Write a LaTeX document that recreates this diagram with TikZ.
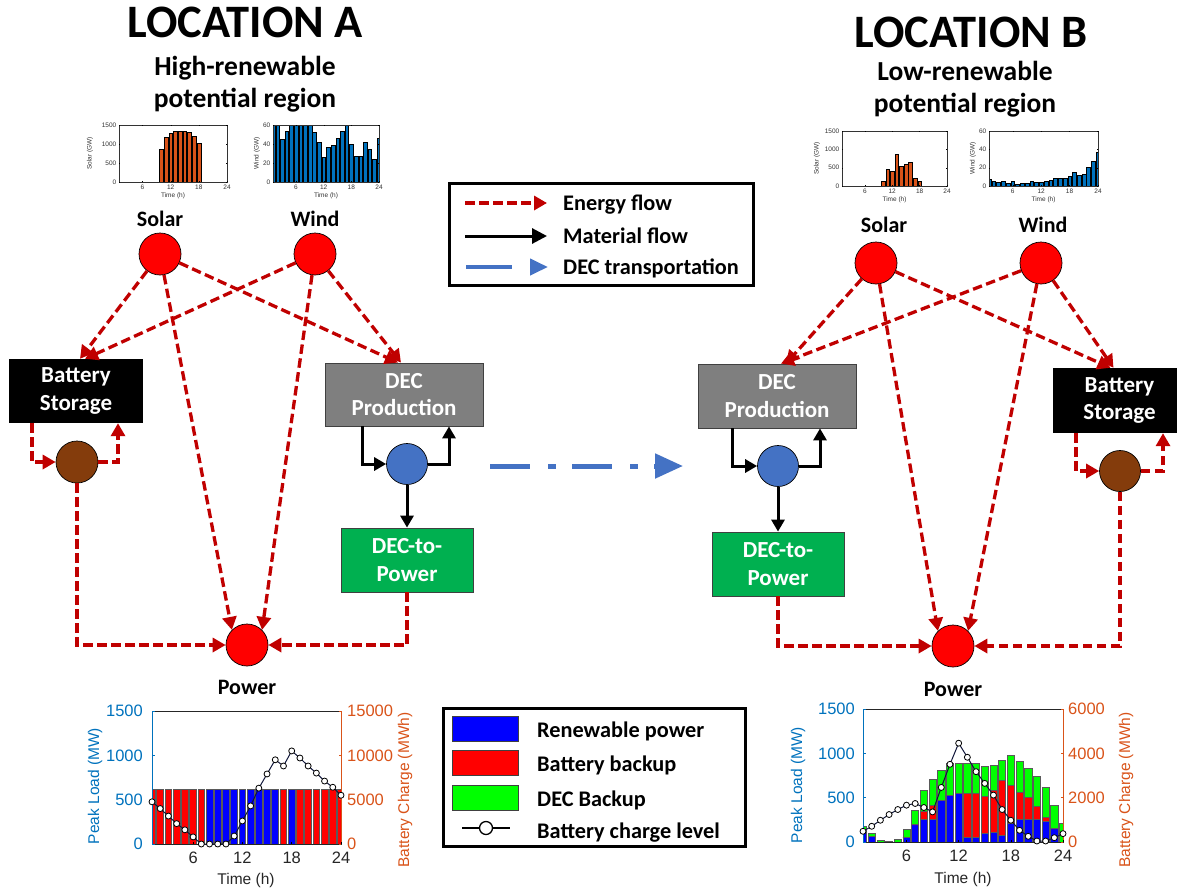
\documentclass[tikz,border=0pt]{standalone}
\usepackage{fontspec}
\setmainfont{Carlito}
\newfontfamily\chartfont{Liberation Sans}
\usetikzlibrary{arrows.meta,calc}

\definecolor{eRed}{HTML}{C00000}
\definecolor{decBlue}{HTML}{4472C4}
\definecolor{brownC}{HTML}{843C0C}
\definecolor{boxGray}{HTML}{7F7F7F}
\definecolor{boxGreen}{HTML}{00B050}
\definecolor{mlBlue}{HTML}{0072BD}
\definecolor{mlOrange}{HTML}{D95319}
\definecolor{barEdge}{HTML}{5A5A5A}
\definecolor{chgLine}{HTML}{10163A}

% small hourly bar chart: x0, x1, ybottom, ytop, ymax, colour, data, ylabel, ylabel x
\newcommand\minichart[9]{%
  \foreach \v [count=\h] in {#7} {%
    \pgfmathsetmacro\xc{#1+(\h-1)*(#2-#1)/23}%
    \pgfmathsetmacro\hw{0.4*(#2-#1)/23}%
    \pgfmathsetmacro\xl{max(\xc-\hw,#1)}%
    \pgfmathsetmacro\xr{min(\xc+\hw,#2)}%
    \pgfmathsetmacro\yv{#3-min(\v,#5)/#5*(#3-#4)}%
    \filldraw[fill=#6, draw=black, line width=0.35pt] (\xl,#3) rectangle (\xr,\yv);
  }%
  \draw[line width=0.45pt, black!80] (#1,#4) rectangle (#2,#3);
  \foreach \t in {6,12,18,24} {%
    \pgfmathsetmacro\xt{#1+(\t-1)*(#2-#1)/23}%
    \draw[line width=0.3pt] (\xt,#3) -- ++(0,-1.3) (\xt,#4) -- ++(0,1.3);
    \node[mini, anchor=north] at (\xt,{#3+2}) {\t};
  }%
  \foreach \k in {0,1,2,3} {%
    \pgfmathsetmacro\yk{#3-\k*(#3-#4)/3}%
    \pgfmathtruncatemacro\lab{\k*(#5/3)}%
    \draw[line width=0.3pt] (#1,\yk) -- ++(1.3,0) (#2,\yk) -- ++(-1.3,0);
    \node[mini, anchor=east] at ({#1-2},\yk) {\lab};
  }%
  \node[mini, rotate=90] at (#9,{(#3+#4)/2}) {#8};
  \node[mini] at ({(#1+#2)/2},{#3+14}) {Time (h)};
}

\begin{document}
\begin{tikzpicture}[x=1pt,y=-1pt,
  eflow/.style={draw=eRed, line width=3.3pt, dash pattern=on 9.5pt off 4.5pt,
    -{Triangle[length=13pt,width=14pt]}},
  mflow/.style={draw=black, line width=3pt, -{Triangle[length=12pt,width=13pt]}},
  tflow/.style={draw=decBlue, line width=5pt, -{Triangle[length=28pt,width=24pt]}},
  nodec/.style={circle, draw=black, line width=0.7pt, inner sep=0pt},
  src/.style={nodec, fill=red, minimum size=42pt},
  box/.style={rectangle, inner sep=0pt, align=center, text=white,
    font=\bfseries\fontsize{23}{27.5}\selectfont},
  lbl/.style={font=\bfseries\fontsize{22}{26}\selectfont, inner sep=0pt},
  ttl/.style={font=\bfseries\fontsize{46.5}{52}\selectfont, inner sep=0pt},
  sub/.style={font=\bfseries\fontsize{27.5}{31}\selectfont, inner sep=0pt},
  lgt/.style={font=\bfseries\fontsize{22.3}{26}\selectfont, inner sep=0pt},
  mini/.style={font=\chartfont\fontsize{6.5}{7}\selectfont, text=black!80, inner sep=0.5pt},
  ax/.style={font=\chartfont\fontsize{16.5}{18}\selectfont, inner sep=0pt},
  axl/.style={font=\chartfont\fontsize{15.5}{17}\selectfont, inner sep=0pt},
  mk/.style={circle, draw=black, fill=white, line width=0.8pt, minimum size=6pt, inner sep=0pt},
  swatch/.style={rectangle, draw=black!75, line width=0.8pt, minimum width=66pt, minimum height=25pt, inner sep=0pt}
]
\useasboundingbox (0,0) rectangle (1177,892);

% ---------------- headings ----------------
\node[ttl, anchor=base] (tA) at (245,37) {LOCATION A};
\node[sub, anchor=base] (sA1) at (245,75) {High-renewable};
\node[sub, anchor=base] (sA2) at (245,107) {potential region};
\node[ttl, anchor=base] (tB) at (971,47) {LOCATION B};
\node[sub, anchor=base] (sB1) at (965,80) {Low-renewable};
\node[sub, anchor=base] (sB2) at (965,112) {potential region};

% ---------------- resource profiles ----------------
\minichart{119}{227}{182}{125}{1500}{mlOrange}
  {0,0,0,0,0,0,0,0,0,870,1170,1280,1340,1350,1350,1300,1200,1010,0,0,0,0,0,0}{Solar (GW)}{90}
\minichart{273}{379}{182}{125}{60}{mlBlue}
  {60,60,45,53,60,60,60,60,60,52,42,26,37,39,46,54,60,40,27,27,42,35,24,46}{Wind (GW)}{257}
\minichart{842}{947}{186}{131}{1500}{mlOrange}
  {0,0,0,0,0,0,0,0,0,136,452,407,867,542,587,641,208,136,0,0,0,0,0,0}{Solar (GW)}{817}
\minichart{989}{1098}{186}{131}{60}{mlBlue}
  {7,5.7,4.6,5.4,3.6,5.7,2.5,3.6,3.2,5.7,3.9,3.9,5.4,6.4,8.9,8.6,8.9,10.4,15.4,12.1,12.9,20.7,27.5,36.8}{Wind (GW)}{973}

% ---------------- location A network ----------------
\node[src] (solA) at (160,254) {};
\node[src] (winA) at (315,254) {};
\node[lbl, anchor=base] (solAl) at (160,226) {Solar};
\node[lbl, anchor=base] (winAl) at (315,226) {Wind};
\node[box, fill=black, minimum width=134pt, minimum height=64pt] (batA) at (76,391) {Battery\\Storage};
\node[nodec, fill=brownC, minimum size=42pt] (brnA) at (77,462) {};
\node[box, fill=boxGray, draw=black!75, line width=0.8pt, minimum width=158pt, minimum height=63pt] (decA) at (404,394.5) {DEC\\Production};
\node[nodec, fill=decBlue, minimum size=41pt] (bluA) at (407,464) {};
\node[box, fill=boxGreen, draw=black!75, line width=0.8pt, minimum width=132pt, minimum height=64pt] (d2pA) at (407,560) {DEC-to-\\Power};
\node[src] (powA) at (247,645) {};
\node[lbl, anchor=base] (powAl) at (247,694) {Power};

\draw[eflow] (solA) -- ([xshift=4pt]batA.north);
\draw[eflow] (winA) -- ([xshift=9pt]batA.north);
\draw[eflow] (solA) -- ([xshift=-6pt]decA.north);
\draw[eflow] (winA) -- ([xshift=-3pt]decA.north);
\draw[eflow] (solA) -- (powA.north west);
\draw[eflow] (winA) -- (powA.north east);
\draw[eflow] ([xshift=-44pt]batA.south) |- (brnA);
\draw[eflow] (brnA) -| ([xshift=42pt]batA.south);
\draw[eflow] (brnA) |- (powA);
\draw[eflow] (d2pA) |- (powA);
\draw[mflow] ([xshift=-42pt]decA.south) |- (bluA);
\draw[mflow] (bluA) -| ([xshift=45pt]decA.south);
\draw[mflow] (bluA) -- (d2pA);

% ---------------- location B network ----------------
\node[src] (solB) at (876,263) {};
\node[src] (winB) at (1041,263) {};
\node[lbl, anchor=base] (solBl) at (884,232) {Solar};
\node[lbl, anchor=base] (winBl) at (1043,232) {Wind};
\node[box, fill=boxGray, draw=black!75, line width=0.8pt, minimum width=158pt, minimum height=64pt] (decB) at (777,396) {DEC\\Production};
\node[nodec, fill=decBlue, minimum size=41pt] (bluB) at (778,466) {};
\node[box, fill=boxGreen, draw=black!75, line width=0.8pt, minimum width=132pt, minimum height=64pt] (d2pB) at (778,564) {DEC-to-\\Power};
\node[box, fill=black, minimum width=133pt, minimum height=65pt] (batB) at (1119.5,400.5) {Battery\\Storage};
\node[nodec, fill=brownC, minimum size=41pt] (brnB) at (1120,471) {};
\node[src] (powB) at (953,646) {};
\node[lbl, anchor=base] (powBl) at (953,696) {Power};

\draw[eflow] (solB) -- ([xshift=9pt]decB.north);
\draw[eflow] (winB) -- ([xshift=4pt]decB.north);
\draw[eflow] (solB) -- ([xshift=-9pt]batB.north);
\draw[eflow] (winB) -- ([xshift=-6pt]batB.north);
\draw[eflow] (solB) -- (powB.north west);
\draw[eflow] (winB) -- (powB.north east);
\draw[eflow] ([xshift=-43.5pt]batB.south) |- (brnB);
\draw[eflow] (brnB) -| ([xshift=43.5pt]batB.south);
\draw[eflow] (brnB) |- (powB);
\draw[eflow] (d2pB) |- (powB);
\draw[mflow] ([xshift=-45pt]decB.south) |- (bluB);
\draw[mflow] (bluB) -| ([xshift=43pt]decB.south);
\draw[mflow] (bluB) -- (d2pB);

% DEC shipment between the two locations
\coordinate (shipS) at (490,466);
\coordinate (shipE) at (683,466);
\draw[tflow, dash pattern=on 40pt off 18pt on 8pt off 16pt] (shipS) -- (shipE);

% ---------------- flow legend ----------------
\node[draw=black, line width=3pt, minimum width=304pt, minimum height=102pt, inner sep=0pt] (legF) at (601.5,234.5) {};
\coordinate (le1) at (465,203); \coordinate (le2) at (547,203);
\coordinate (lm1) at (465,236); \coordinate (lm2) at (547,236);
\coordinate (lt1) at (466,267); \coordinate (lt2) at (548,267);
\draw[eflow] (le1) -- (le2);
\draw[mflow, -{Triangle[length=15pt,width=15pt]}] (lm1) -- (lm2);
\draw[draw=decBlue, line width=4pt, dash pattern=on 46pt off 40pt, -{Triangle[length=18pt,width=16pt]}] (lt1) -- (lt2);
\node[lgt, anchor=base west] (lgE) at (563,210) {Energy flow};
\node[lgt, anchor=base west] (lgM) at (563,243) {Material flow};
\node[lgt, anchor=base west] (lgT) at (563,274) {DEC transportation};

% ---------------- dispatch legend ----------------
\node[draw=black, line width=3pt, minimum width=302pt, minimum height=138pt, inner sep=0pt] (legD) at (594.5,777.5) {};
\node[swatch, fill=blue] (swR) at (485,728.5) {};
\node[swatch, fill=red] (swB) at (485,763) {};
\node[swatch, fill=green] (swD) at (485,797.5) {};
\coordinate (lc1) at (462,828); \coordinate (lc2) at (510,828);
\draw[line width=2.5pt] (lc1) -- (lc2);
\node[mk, minimum size=13pt, line width=1.3pt] (lcm) at (486,828) {};
\node[lgt, anchor=base west] at (537,737) {Renewable power};
\node[lgt, anchor=base west] at (537,771) {Battery backup};
\node[lgt, anchor=base west] at (537,806) {DEC Backup};
\node[lgt, anchor=base west] at (537,838) {Battery charge level};

% ---------------- dispatch chart, location A ----------------
\foreach \c [count=\h] in {red,red,red,red,red,red,red,blue,blue,blue,blue,blue,blue,blue,blue,blue,red,blue,red,red,red,red,red,red} {
  \pgfmathsetmacro\xc{152+(\h-1)*189/23}
  \pgfmathsetmacro\xl{max(\xc-3.4,152)}
  \pgfmathsetmacro\xr{min(\xc+3.4,341)}
  \filldraw[fill=\c, draw=barEdge, line width=0.8pt] (\xl,844) rectangle (\xr,{844-620/1500*133});
}
\draw[line width=0.5pt, black!85] (152,711) rectangle (341,844);
\draw[line width=0.6pt, mlBlue] (152,711) -- (152,844);
\draw[line width=0.6pt, mlOrange] (341,711) -- (341,844);
\foreach \k/\l/\r in {0/0/0,1/500/5000,2/1000/10000,3/1500/15000} {
  \pgfmathsetmacro\yk{844-\k*133/3}
  \draw[mlBlue, line width=0.5pt] (152,\yk) -- ++(2.5,0);
  \draw[mlOrange, line width=0.5pt] (341,\yk) -- ++(-2.5,0);
  \node[ax, text=mlBlue, anchor=east] at (143,\yk) {\l};
  \node[ax, text=mlOrange, anchor=west] at (347,\yk) {\r};
}
\foreach \t in {6,12,18,24} {
  \pgfmathsetmacro\xt{152+(\t-1)*189/23}
  \draw[line width=0.5pt] (\xt,844) -- ++(0,-2.5);
  \node[ax, text=black!85, anchor=north] at (\xt,852) {\t};
}
\node[axl, text=black!85] at (246,880) {Time (h)};
\node[axl, text=mlBlue, rotate=90] at (95,786) {Peak Load (MW)};
\node[axl, text=mlOrange, rotate=90] at (405,790) {Battery Charge (MWh)};
\foreach \v [count=\h] in {4760,4000,3150,2300,1600,800,0,0,0,0,900,2600,4300,6300,7900,9500,8800,10500,9700,8800,8000,7100,6400,5500} {
  \coordinate (cA\h) at ({152+(\h-1)*189/23},{844-\v/15000*133});
}
\draw[chgLine, line width=1pt] (cA1) \foreach \i in {2,...,24} { -- (cA\i) };
\foreach \i in {1,...,24} { \node[mk] at (cA\i) {}; }

% ---------------- dispatch chart, location B ----------------
\foreach \b/\r/\g [count=\h] in {113/0/65,64/0/36,0/0/19,0/0/11,0/0/26,57/0/86,196/0/159,253/95/237,253/159/294,472/0/340,529/0/359,548/0/340,57/491/340,57/491/340,102/416/340,110/470/289,76/615/235,208/434/340,253/310/344,253/246/332,253/151/340,238/38/340,151/0/264,0/0/208} {
  \pgfmathsetmacro\xc{863+(\h-1)*200/23}
  \pgfmathsetmacro\xl{max(\xc-3.6,863)}
  \pgfmathsetmacro\xr{min(\xc+3.6,1063)}
  \pgfmathsetmacro\ya{842-\b/1500*133}
  \pgfmathsetmacro\yb{\ya-\r/1500*133}
  \pgfmathsetmacro\yc{\yb-\g/1500*133}
  \filldraw[fill=blue, draw=barEdge, line width=0.6pt] (\xl,842) rectangle (\xr,\ya);
  \filldraw[fill=red, draw=barEdge, line width=0.6pt] (\xl,\ya) rectangle (\xr,\yb);
  \filldraw[fill=green, draw=barEdge, line width=0.6pt] (\xl,\yb) rectangle (\xr,\yc);
}
\draw[line width=0.5pt, black!85] (863,709) rectangle (1063,842);
\draw[line width=0.6pt, mlBlue] (863,709) -- (863,842);
\draw[line width=0.6pt, mlOrange] (1063,709) -- (1063,842);
\foreach \k/\l/\r in {0/0/0,1/500/2000,2/1000/4000,3/1500/6000} {
  \pgfmathsetmacro\yk{842-\k*133/3}
  \draw[mlBlue, line width=0.5pt] (863,\yk) -- ++(2.5,0);
  \draw[mlOrange, line width=0.5pt] (1063,\yk) -- ++(-2.5,0);
  \node[ax, text=mlBlue, anchor=east] at (855,\yk) {\l};
  \node[ax, text=mlOrange, anchor=west] at (1068,\yk) {\r};
}
\foreach \t in {6,12,18,24} {
  \pgfmathsetmacro\xt{863+(\t-1)*200/23}
  \draw[line width=0.5pt] (\xt,842) -- ++(0,-2.5);
  \node[ax, text=black!85, anchor=north] at (\xt,850) {\t};
}
\node[axl, text=black!85] at (963,879) {Time (h)};
\node[axl, text=mlBlue, rotate=90] at (798,785) {Peak Load (MW)};
\node[axl, text=mlOrange, rotate=90] at (1126,790) {Battery Charge (MWh)};
\foreach \v [count=\h] in {484,710,982,1240,1466,1662,1738,1557,1360,2463,3506,4458,3823,3174,2645,2116,1466,982,529,257,45,45,196,378} {
  \coordinate (cB\h) at ({863+(\h-1)*200/23},{842-\v/6000*133});
}
\draw[chgLine, line width=1pt] (cB1) \foreach \i in {2,...,24} { -- (cB\i) };
\foreach \i in {1,...,24} { \node[mk] at (cB\i) {}; }

\end{tikzpicture}
\end{document}
